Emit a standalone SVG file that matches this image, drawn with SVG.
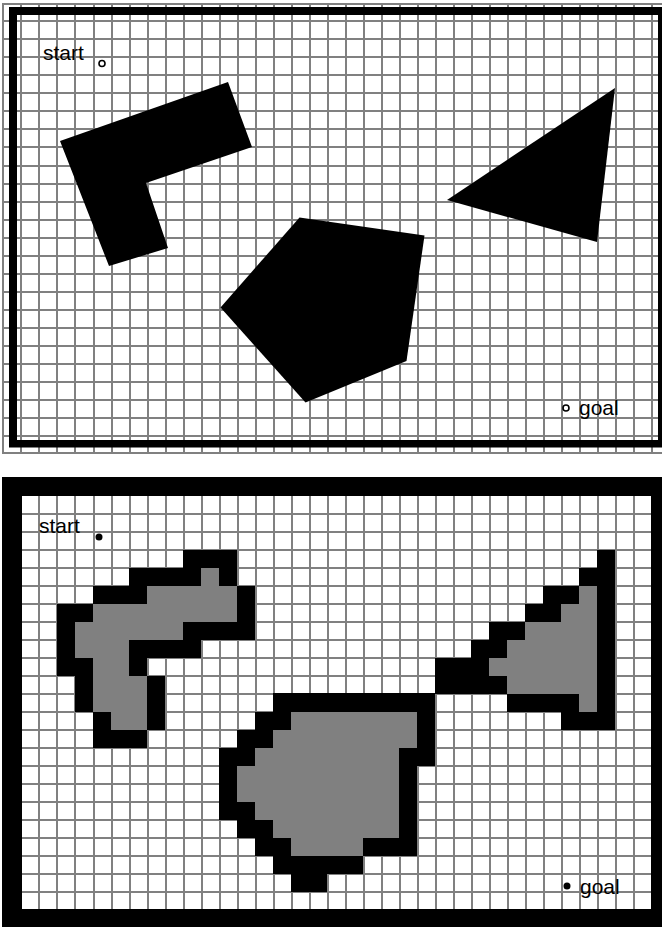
<svg xmlns="http://www.w3.org/2000/svg" width="662" height="927" viewBox="0 0 662 927">
<style>
.g{stroke:#808080;fill:none;stroke-width:2}
.k{fill:#000}
.m{fill:#808080}
text{font-family:"Liberation Sans",Arial,sans-serif;font-size:21px;fill:#000}
</style>
<rect width="662" height="927" fill="#fff"/>
<g id="top-map">
<path class="g" d="M3 3V454M21 3V454M39 3V454M57 3V454M75 3V454M94 3V454M112 3V454M130 3V454M148 3V454M166 3V454M184 3V454M202 3V454M220 3V454M238 3V454M256 3V454M274 3V454M292 3V454M310 3V454M328 3V454M346 3V454M364 3V454M382 3V454M400 3V454M418 3V454M436 3V454M454 3V454M472 3V454M490 3V454M508 3V454M526 3V454M544 3V454M562 3V454M580 3V454M598 3V454M616 3V454M634 3V454M652 3V454"/>
<path class="g" d="M2 4H662M2 21H662M2 39H662M2 57H662M2 75H662M2 93H662M2 111H662M2 129H662M2 147H662M2 166H662M2 184H662M2 202H662M2 220H662M2 238H662M2 256H662M2 274H662M2 292H662M2 310H662M2 328H662M2 346H662M2 364H662M2 382H662M2 400H662M2 418H662M2 436H662M2 453H662"/>
<path id="top-frame" class="k" fill-rule="evenodd" d="M9 7H662V447.500H9ZM17 15V440H658V15Z"/>
<polygon id="l-shape" class="k" points="60,141 228,82 252,147 146,183 168,248 109,266"/>
<polygon id="triangle" class="k" points="615,88 447,200 597,242"/>
<polygon id="pentagon" class="k" points="299.500,217.500 424.500,235.500 406.500,361 305.500,402.500 220.500,307.500"/>
<circle cx="102" cy="63.500" r="3" fill="#fff" stroke="#000" stroke-width="1.600"/>
<circle cx="566" cy="408" r="3" fill="#fff" stroke="#000" stroke-width="1.600"/>
<text x="43" y="60">start</text>
<text x="579" y="415">goal</text>
</g>
<g id="bottom-map">
<path class="g" d="M39 496V909M57 496V909M75 496V909M94 496V909M112 496V909M130 496V909M148 496V909M166 496V909M184 496V909M202 496V909M220 496V909M238 496V909M256 496V909M274 496V909M292 496V909M310 496V909M328 496V909M346 496V909M364 496V909M382 496V909M400 496V909M418 496V909M436 496V909M454 496V909M472 496V909M490 496V909M508 496V909M526 496V909M544 496V909M562 496V909M580 496V909M598 496V909M616 496V909M634 496V909"/>
<path class="g" d="M22 514H651M22 532H651M22 550H651M22 568H651M22 586H651M22 604H651M22 622H651M22 640H651M22 658H651M22 676H651M22 694H651M22 712H651M22 730H651M22 748H651M22 766H651M22 784H651M22 802H651M22 820H651M22 838H651M22 856H651M22 874H651M22 892H651"/>
<g transform="translate(-1 0)">
<g id="obstacle-1">
<path class="m" d="M202 568H220V586H202ZM148 586H238V604H148ZM94 604H238V622H94ZM76 622H184V640H76ZM76 640H130V658H76ZM94 658H130V676H94ZM94 676H148V712H94ZM112 712H148V730H112Z"/>
<path class="k" d="M184 550H238V568H184ZM130 568H202V586H130ZM220 568H238V586H220ZM94 586H148V604H94ZM238 586H256V622H238ZM58 604H94V622H58ZM58 622H76V658H58ZM184 622H256V640H184ZM130 640H202V658H130ZM58 658H94V676H58ZM130 658H148V676H130ZM76 676H94V712H76ZM148 676H166V730H148ZM94 712H112V730H94ZM94 730H148V748H94Z"/>
</g>
<g id="obstacle-2">
<path class="m" d="M292 712H418V730H292ZM274 730H418V748H274ZM256 748H400V766H256ZM238 766H400V802H238ZM256 802H400V820H256ZM274 820H400V838H274ZM292 838H364V856H292Z"/>
<path class="k" d="M274 693H436V712H274ZM256 712H292V730H256ZM418 712H436V748H418ZM238 730H274V748H238ZM220 748H256V766H220ZM400 748H436V766H400ZM220 766H238V802H220ZM400 766H418V838H400ZM220 802H256V820H220ZM238 820H274V838H238ZM256 838H292V856H256ZM364 838H418V856H364ZM274 856H364V874H274ZM292 874H328V892H292Z"/>
</g>
<g id="obstacle-3">
<path class="m" d="M580 586H598V604H580ZM562 604H598V622H562ZM526 622H598V640H526ZM508 640H598V658H508ZM490 658H598V676H490ZM508 676H598V694H508ZM580 694H598V712H580Z"/>
<path class="k" d="M598 550H616V730H598ZM580 568H598V586H580ZM544 586H580V604H544ZM526 604H562V622H526ZM490 622H526V640H490ZM472 640H508V658H472ZM436 658H490V676H436ZM436 676H508V694H436ZM508 694H580V712H508ZM562 712H598V730H562Z"/>
</g>
</g>
<path id="bottom-frame" class="k" fill-rule="evenodd" d="M2 477H662V927H2ZM22 496V909H651V496Z"/>
<circle class="k" cx="99" cy="537" r="3.500"/>
<circle class="k" cx="567" cy="886" r="3.500"/>
<text x="39" y="533">start</text>
<text x="580" y="894">goal</text>
</g>
</svg>
